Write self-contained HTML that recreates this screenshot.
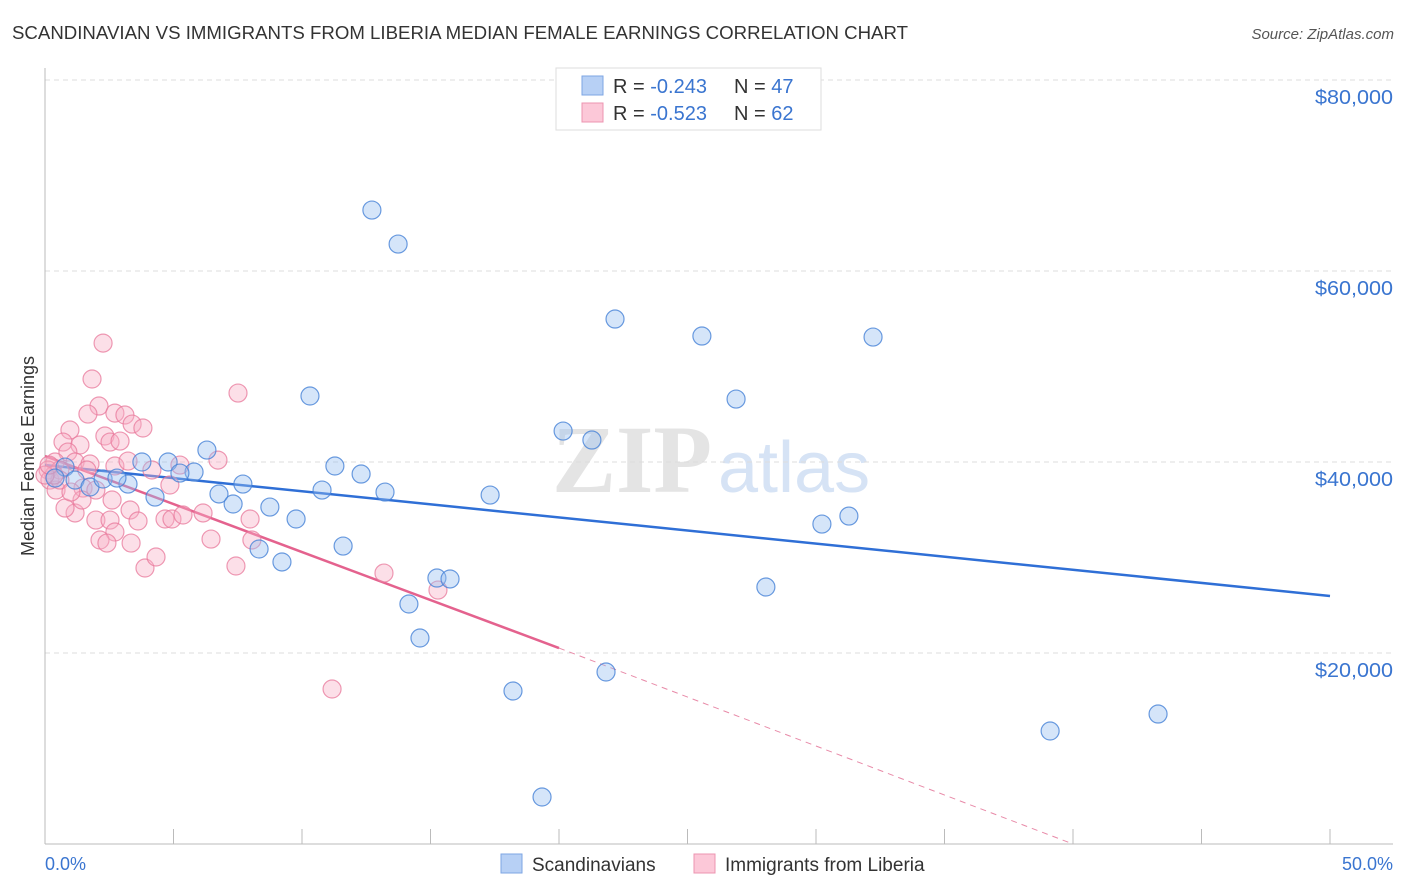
<!DOCTYPE html>
<html><head><meta charset="utf-8"><style>
body{margin:0;background:#fff;font-family:"Liberation Sans",sans-serif;}
svg{display:block}
</style></head><body>
<svg id="chart" width="1406" height="892" xmlns="http://www.w3.org/2000/svg">
<text x="12" y="39" font-size="18" fill="#333" textLength="896" lengthAdjust="spacingAndGlyphs">SCANDINAVIAN VS IMMIGRANTS FROM LIBERIA MEDIAN FEMALE EARNINGS CORRELATION CHART</text>
<text x="1394" y="39" font-size="15" fill="#555" font-style="italic" text-anchor="end">Source: ZipAtlas.com</text>
<g>
<text x="552" y="492" font-size="96" fill="#e4e4e4" font-family="Liberation Serif,serif" font-weight="bold">ZIP</text>
<text x="718" y="492" font-size="72" fill="#d6e3f5">atlas</text>
</g>
<g id="grid"></g>
<g id="axes"></g>
<g id="lines"></g>
<g id="pts"></g>
<g>
<rect x="556" y="68" width="265" height="62" fill="#fff" stroke="#ddd"/>
<rect x="582" y="76" width="21" height="19" fill="#b7d0f5" stroke="#7ea6e3"/>
<rect x="582" y="103" width="21" height="19" fill="#fcc8d8" stroke="#ec94b0"/>
<text x="613" y="93" font-size="20" fill="#333">R = <tspan fill="#3a75d0">-0.243</tspan></text>
<text x="734" y="93" font-size="20" fill="#333">N = <tspan fill="#3a75d0">47</tspan></text>
<text x="613" y="120" font-size="20" fill="#333">R = <tspan fill="#3a75d0">-0.523</tspan></text>
<text x="734" y="120" font-size="20" fill="#333">N = <tspan fill="#3a75d0">62</tspan></text>
</g>
<text transform="translate(34,456) rotate(-90)" font-size="18" fill="#333" text-anchor="middle">Median Female Earnings</text>
<text x="45" y="870" font-size="18" fill="#3a75d0">0.0%</text>
<text x="1393" y="870" font-size="18" fill="#3a75d0" text-anchor="end">50.0%</text>
<g>
<rect x="501" y="854" width="21" height="19" fill="#b7d0f5" stroke="#7ea6e3"/>
<text x="532" y="871" font-size="19" fill="#333">Scandinavians</text></g>
<g>
<rect x="694" y="854" width="21" height="19" fill="#fcc8d8" stroke="#ec94b0"/>
<text x="725" y="871" font-size="19" fill="#333">Immigrants from Liberia</text></g>
</svg>
<script>
const yTicks=[20000,40000,60000,80000];
const yTickLabels=["$20,000","$40,000","$60,000","$80,000"];
const xTicks=[0,5,10,15,20,25,30,35,40,45,50];
const blueX=[12.72,13.74,22.18,25.56,32.22,10.31,26.89,20.16,21.28,6.30,4.79,3.77,11.28,12.30,5.80,5.25,10.78,13.23,17.32,7.70,6.77,7.32,4.28,3.23,8.75,9.77,30.23,31.28,8.33,9.22,11.60,15.25,15.76,28.05,14.16,14.59,18.21,21.83,39.11,43.31,19.34,0.78,0.39,1.17,1.75,2.26,2.80];
const blueY=[66380,62820,54970,53190,53080,46910,46590,43240,42300,41250,40000,40000,39580,38740,38950,38840,37060,36850,36540,37690,36650,35600,36330,37690,35280,34030,33500,34340,30890,29530,31200,27850,27750,26910,25130,21570,16020,18010,11830,13610,4920,39470,38320,38110,37380,38220,38320];
const pinkX=[2.26,1.83,7.51,2.10,1.67,2.72,3.11,3.39,3.81,2.33,2.53,2.92,0.97,0.70,1.36,0.89,1.17,0.39,0.12,0.19,0.43,0.58,1.48,1.98,1.75,2.72,3.23,5.25,4.16,4.86,2.61,3.31,1.98,2.53,1.17,0.78,1.44,3.62,4.67,4.94,5.37,6.15,7.98,6.46,8.05,2.72,2.14,2.41,3.35,3.89,4.32,7.43,13.19,15.29,11.17,6.73,0.58,0.35,1.01,1.63,0,0.16];
const pinkY=[52450,48690,47220,45860,45020,45120,44920,43970,43560,42720,42090,42190,43350,42090,41780,41040,40000,40000,39160,38110,37060,39160,37270,37060,39790,39580,40100,39680,39160,37590,36020,34970,33920,33920,34660,35180,36020,33820,34030,34030,34450,34660,34030,31930,31830,32670,31830,31510,31510,28900,30050,29110,28370,26590,16230,40200,38110,38630,36850,39160,38630,39680];
const blueTrend=[39680,25970];
const pinkTrend=[40620,20520,0];
const NS="http://www.w3.org/2000/svg";
const X=v=>45+v*25.7;
const Y=v=>844-v/20000*191;
function mk(tag,attrs,parent){const e=document.createElementNS(NS,tag);for(const k in attrs)e.setAttribute(k,attrs[k]);document.getElementById(parent).appendChild(e);return e;}
let g=mk('line',{x1:45,x2:1393,y1:Y(80000),y2:Y(80000),stroke:'#ddd','stroke-dasharray':'5,4'},'grid');


yTicks.forEach((t,i)=>{
 const l=mk('line',{x1:45,x2:1393,y1:Y(t),y2:Y(t),stroke:'#ddd','stroke-dasharray':'5,4'},'grid');
 
 
 const tx=mk('text',{x:1393,y:Y(t)+24,'font-size':20,fill:'#3a75d0','text-anchor':'end',textLength:78,lengthAdjust:'spacingAndGlyphs'},'axes');
 tx.textContent=yTickLabels[i];
 
 
});
let a=mk('line',{x1:45,x2:45,y1:68,y2:844,stroke:'#bbb'},'axes');


a=mk('line',{x1:45,x2:1393,y1:844,y2:844,stroke:'#bbb'},'axes');


xTicks.forEach(t=>{
 const l=mk('line',{x1:X(t),x2:X(t),y1:829,y2:844,stroke:'#bbb'},'axes');
 
 
});
function dots(xs,ys,fill,stroke,name){
 xs.forEach((x,i)=>{
  const c=mk('circle',{cx:X(x),cy:Y(ys[i]),r:9,fill:fill,stroke:stroke,'stroke-width':1.2},'pts');
  
  
 });
}
dots(pinkX,pinkY,'rgba(248,175,198,0.4)','rgba(232,120,155,0.75)','liberia-point');
dots(blueX,blueY,'rgba(150,190,240,0.4)','rgba(70,130,215,0.8)','scandinavian-point');
let t=mk('line',{x1:X(0),y1:Y(blueTrend[0]),x2:X(50),y2:Y(blueTrend[1]),stroke:'#2f6fd6','stroke-width':2.5},'lines');


t=mk('line',{x1:X(0),y1:Y(pinkTrend[0]),x2:X(20),y2:Y(pinkTrend[1]),stroke:'#e4628e','stroke-width':2.5},'lines');


t=mk('line',{x1:X(20),y1:Y(pinkTrend[1]),x2:X(40),y2:Y(pinkTrend[2]),stroke:'#e88aa8','stroke-width':1,'stroke-dasharray':'6,5'},'lines');


</script>
</body></html>
